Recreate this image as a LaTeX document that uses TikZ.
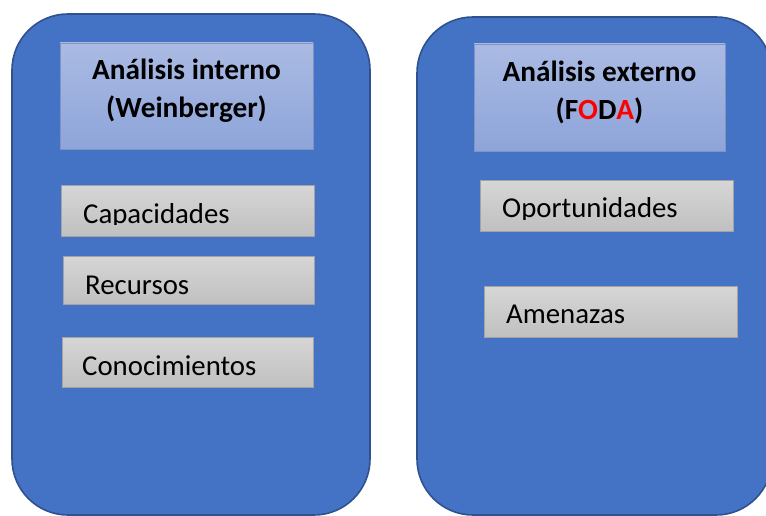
\documentclass[tikz,border=0pt]{standalone}
\usepackage{fontspec}
\setmainfont{Carlito}
\usetikzlibrary{calc}
\definecolor{panelfill}{HTML}{4472C4}
\definecolor{paneldraw}{HTML}{2F528F}
\definecolor{titletop}{HTML}{AABAE3}
\definecolor{titlebot}{HTML}{8EA5DA}
\definecolor{itemtop}{HTML}{D6D6D6}
\definecolor{itembot}{HTML}{C0C0C0}
\definecolor{itemdraw}{HTML}{A3A3A3}
\definecolor{fodared}{HTML}{FF0000}
\tikzset{
  panel/.style={draw=paneldraw, line width=1.6pt, fill=panelfill, rounded corners=56pt},
  titlebox/.style={top color=titletop, bottom color=titlebot, draw=titlebot!90!black, line width=0.3pt},
  itembox/.style={top color=itemtop, bottom color=itembot, draw=itemdraw, line width=1pt},
  titletext/.style={font=\fontsize{29.3}{38}\selectfont\bfseries, align=center, anchor=base, inner sep=0pt},
  itemtext/.style={font=\fontsize{28.8}{34}\selectfont, anchor=base west, inner sep=0pt}
}
\begin{document}
\begin{tikzpicture}[x=1pt,y=-1pt]
\clip (0,0) rectangle (766,516);
\fill[white] (0,0) rectangle (766,516);
% panels
\path[panel] (12,14) rectangle (370,515);
\path[panel] (417,17) rectangle (772,515);
% title boxes
\path[titlebox] (60,43) rectangle (313,149);
\path[titlebox] (474,44) rectangle (725,151);
\node[titletext] (tl) at (186.5,118) {Análisis interno\\(Weinberger)};
\node[titletext] (tr) at (599.5,120) {Análisis externo\\(F\textcolor{fodared}{O}D\textcolor{fodared}{A})};
% item boxes
\path[itembox] (61,186) rectangle (314,236);
\path[itembox] (63,256) rectangle (314,304);
\path[itembox] (62,337) rectangle (313,387);
\path[itembox] (480,181) rectangle (733,231);
\path[itembox] (484,286) rectangle (737,337);
\begin{scope}
\clip (60,180) rectangle (315,224.5);
\node[itemtext] (cap) at (83,223) {Capacidades};
\end{scope}
\begin{scope}
\clip (60,250) rectangle (315,295.5);
\node[itemtext] (rec) at (85,294) {Recursos};
\end{scope}
\begin{scope}
\clip (60,330) rectangle (315,376.5);
\node[itemtext] (con) at (82,375) {Conocimientos};
\end{scope}
\begin{scope}
\clip (478,175) rectangle (735,219.5);
\node[itemtext] (opo) at (502,218) {Oportunidades};
\end{scope}
\begin{scope}
\clip (482,280) rectangle (740,324.5);
\node[itemtext] (ame) at (506,323) {Amenazas};
\end{scope}
\end{tikzpicture}
\end{document}
